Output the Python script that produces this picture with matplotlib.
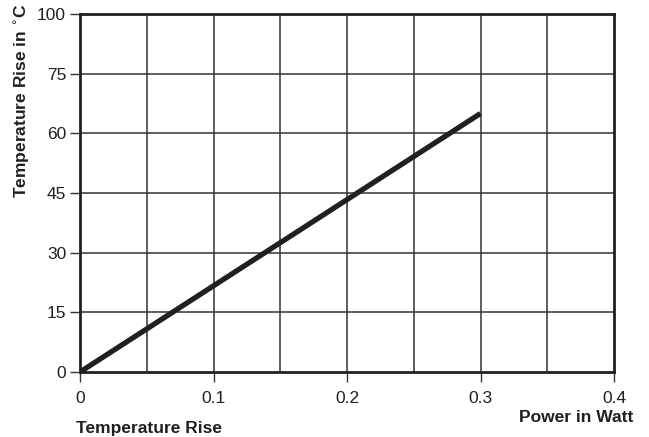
import matplotlib
matplotlib.use("Agg")
import matplotlib.pyplot as plt
import numpy as np

power = [0.0, 0.3]
temp_rise = [0.0, 65.0]
y_ticks = [0, 15, 30, 45, 60, 75, 90]
y_labels = ["0", "15", "30", "45", "60", "75", "100"]
x_ticks = [0, 0.1, 0.2, 0.3, 0.4]
x_labels = ["0", "0.1", "0.2", "0.3", "0.4"]
x_grid = [0.05, 0.1, 0.15, 0.2, 0.25, 0.3, 0.35]

plt.rcParams['font.family'] = ['Liberation Sans', 'DejaVu Sans']
fig = plt.figure(figsize=(6.49, 4.37), dpi=100)
ax = fig.add_axes([80/649, 1-372/437, (614-80)/649, (372-14)/437])

for xg in x_grid:
    ax.axvline(xg, color='#333333', lw=1.1, zorder=1)
for yg in y_ticks[1:-1]:
    ax.axhline(yg, color='#333333', lw=1.1, zorder=1)

ax.plot(power, temp_rise, color='#231f20', lw=3.8, solid_capstyle='butt', zorder=3)

ax.set_xlim(0, 0.4)
ax.set_ylim(0, 90)
ax.set_xticks(x_ticks)
ax.set_xticklabels(x_labels)
ax.set_yticks(y_ticks)
ax.set_yticklabels(y_labels)
ax.tick_params(direction='out', length=7, width=1, labelsize=12.5, color='#333333', labelcolor='#231f20')
ax.tick_params(axis='x', pad=7)
ax.tick_params(axis='y', pad=3)
for s in ax.spines.values():
    s.set_linewidth(2)
    s.set_color('#231f20')

fig.text(633/649, 1-418/437, "Power in Watt", ha='right', va='center', fontsize=12.5, fontweight='bold', color='#231f20')
fig.text(149/649, 1-428/437, "Temperature Rise", ha='center', va='center', fontsize=12.5, fontweight='bold', color='#231f20')
fig.text(22/649, 1-4/437, r"Temperature Rise in $^{\circ}$C", ha='center', va='top', rotation=90, fontsize=12.5, fontweight='bold', color='#231f20')

fig.savefig("out.png", dpi=100)
